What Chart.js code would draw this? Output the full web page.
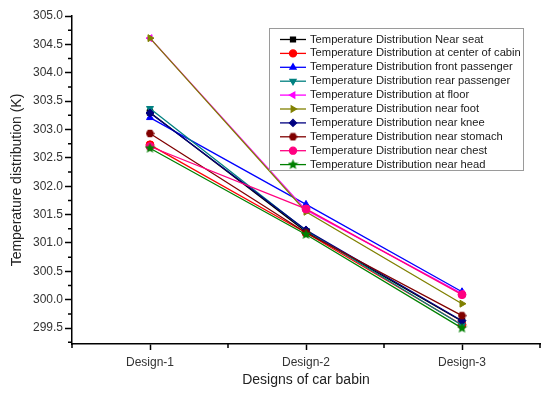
<!DOCTYPE html>
<html lang="en">
<head>
    <meta charset="UTF-8">
    <title>Temperature distribution by design</title>
    <script src="https://cdn.jsdelivr.net/npm/chart.js"></script>
    <style>
        html, body {
            margin: 0;
            padding: 0;
            background: #fff;
        }
        #chart-container {
            width: 546px;
            height: 394px;
        }
    </style>
</head>
<body>
    <div id="chart-container">
        <canvas id="tempChart"></canvas>
    </div>
    <script>
        // categories and y tick labels
        const categories = ['Design-1', 'Design-2', 'Design-3'];
        const yTickValues = [299.5, 300.0, 300.5, 301.0, 301.5, 302.0, 302.5, 303.0, 303.5, 304.0, 304.5, 305.0];

        // series values (K)
        const nearSeat = [303.30, 301.20, 299.62];
        const centerOfCabin = [302.73, 301.18, 299.56];
        const frontPassenger = [303.21, 301.68, 300.14];
        const rearPassenger = [303.37, 301.22, 299.55];
        const atFloor = [304.61, 301.58, 300.11];
        const nearFoot = [304.61, 301.55, 299.93];
        const nearKnee = [303.29, 301.23, 299.63];
        const nearStomach = [302.93, 301.18, 299.72];
        const nearChest = [302.70, 301.60, 300.09];
        const nearHead = [302.67, 301.15, 299.50];

        const seriesNames = [
            'Temperature Distribution Near seat',
            'Temperature Distribution at center of cabin',
            'Temperature Distribution front passenger',
            'Temperature Distribution rear passenger',
            'Temperature Distribution at floor',
            'Temperature Distribution near foot',
            'Temperature Distribution near knee',
            'Temperature Distribution near stomach',
            'Temperature Distribution near chest',
            'Temperature Distribution near head'
        ];
        const seriesValues = [nearSeat, centerOfCabin, frontPassenger, rearPassenger, atFloor,
            nearFoot, nearKnee, nearStomach, nearChest, nearHead];

        // little filled shapes that Chart.js has no built-in style for
        function shapeCanvas(kind, color, size) {
            const c = document.createElement('canvas');
            c.width = size;
            c.height = size;
            const g = c.getContext('2d');
            const r = size / 2;
            g.fillStyle = color;
            g.beginPath();
            if (kind === 'star') {
                for (let i = 0; i < 10; i++) {
                    const rad = i % 2 === 0 ? r : r * 0.45;
                    const a = -Math.PI / 2 + i * Math.PI / 5;
                    const px = r + rad * Math.cos(a);
                    const py = r + rad * Math.sin(a);
                    if (i === 0) g.moveTo(px, py); else g.lineTo(px, py);
                }
            } else {
                for (let i = 0; i < 6; i++) {
                    const a = i * Math.PI / 3;
                    const px = r + r * 0.95 * Math.cos(a);
                    const py = r + r * 0.95 * Math.sin(a);
                    if (i === 0) g.moveTo(px, py); else g.lineTo(px, py);
                }
            }
            g.closePath();
            g.fill();
            return c;
        }

        const styles = [
            { color: '#000000', point: 'rect', rot: 0 },
            { color: '#FF0000', point: 'circle', rot: 0 },
            { color: '#0000FF', point: 'triangle', rot: 0 },
            { color: '#008080', point: 'triangle', rot: 180 },
            { color: '#FF00FF', point: 'triangle', rot: -90 },
            { color: '#808000', point: 'triangle', rot: 90 },
            { color: '#000080', point: 'rectRot', rot: 0 },
            { color: '#800000', point: shapeCanvas('hex', '#800000', 9), rot: 0 },
            { color: '#FF0080', point: 'circle', rot: 0 },
            { color: '#008000', point: shapeCanvas('star', '#008000', 11), rot: 0 }
        ];

        // later series are painted over earlier ones, as in the original plot
        const datasets = seriesNames.map((name, i) => ({
            label: name,
            data: seriesValues[i].map((v, j) => ({ x: j + 1, y: v })),
            order: seriesNames.length - i,
            borderColor: styles[i].color,
            backgroundColor: styles[i].color,
            pointStyle: styles[i].point,
            pointRotation: styles[i].rot,
            pointRadius: 4,
            pointBorderWidth: 1,
            borderWidth: 1.3,
            tension: 0
        }));

        // legend box drawn inside the plot, lines + markers like the original
        const boxLegend = {
            id: 'boxLegend',
            afterDraw(chart) {
                const ctx = chart.ctx;
                const left = 269, top = 28, right = 523, bottom = 170;
                ctx.save();
                ctx.fillStyle = '#fff';
                ctx.fillRect(left, top, right - left, bottom - top);
                ctx.strokeStyle = '#9a9a9a';
                ctx.lineWidth = 1;
                ctx.strokeRect(left + 0.5, top + 0.5, right - left, bottom - top);
                ctx.font = '11.2px "Liberation Sans", Arial, sans-serif';
                ctx.textBaseline = 'middle';
                chart.data.datasets.forEach((ds, i) => {
                    const y = 39.5 + i * 13.9;
                    ctx.strokeStyle = ds.borderColor;
                    ctx.fillStyle = ds.backgroundColor;
                    ctx.lineWidth = 1.3;
                    ctx.beginPath();
                    ctx.moveTo(280, y);
                    ctx.lineTo(306, y);
                    ctx.stroke();
                    Chart.helpers.drawPoint(ctx, {
                        pointStyle: ds.pointStyle,
                        rotation: ds.pointRotation,
                        radius: 3.5,
                        borderWidth: 1
                    }, 293, y);
                    ctx.fillStyle = '#1a1a1a';
                    ctx.fillText(ds.label, 310, y);
                });
                ctx.restore();
            }
        };

        // short minor ticks between the labelled ones
        const minorTicks = {
            id: 'minorTicks',
            afterDraw(chart) {
                const ctx = chart.ctx;
                const xs = chart.scales.x, ys = chart.scales.y;
                ctx.save();
                ctx.strokeStyle = '#000';
                ctx.lineWidth = 1.5;
                ctx.beginPath();
                for (let k = 0; k < yTickValues.length; k++) {
                    const py = ys.getPixelForValue(yTickValues[k] - 0.25);
                    if (py <= ys.bottom) {
                        ctx.moveTo(ys.right - 4, py);
                        ctx.lineTo(ys.right, py);
                    }
                }
                for (let k = 0; k <= categories.length; k++) {
                    const px = xs.getPixelForValue(k + 0.5);
                    ctx.moveTo(px, xs.top);
                    ctx.lineTo(px, xs.top + 4);
                }
                ctx.stroke();
                ctx.restore();
            }
        };

        const ctx = document.getElementById('tempChart').getContext('2d');
        new Chart(ctx, {
            type: 'line',
            data: { datasets: datasets },
            options: {
                responsive: true,
                maintainAspectRatio: false,
                animation: false,
                layout: { padding: { left: 0, top: 16, right: 6, bottom: 0 } },
                plugins: {
                    legend: { display: false },
                    tooltip: { enabled: false }
                },
                scales: {
                    x: {
                        type: 'linear',
                        min: 0.5,
                        max: categories.length + 0.5,
                        afterBuildTicks: (scale) => {
                            scale.ticks = categories.map((c, i) => ({ value: i + 1 }));
                        },
                        afterFit: (scale) => { scale.height = 50; },
                        border: { display: true, color: '#000', width: 1.5 },
                        grid: {
                            display: true,
                            drawOnChartArea: false,
                            drawTicks: true,
                            tickLength: 6,
                            tickWidth: 1.5,
                            tickColor: '#000'
                        },
                        ticks: {
                            padding: 5,
                            color: '#333',
                            font: { family: '"Liberation Sans", Arial, sans-serif', size: 12 },
                            maxRotation: 0,
                            callback: (v) => categories[Math.round(v) - 1]
                        },
                        title: {
                            display: true,
                            text: 'Designs of car babin',
                            color: '#222',
                            font: { family: '"Liberation Sans", Arial, sans-serif', size: 14 },
                            padding: { top: 0, bottom: 5 }
                        }
                    },
                    y: {
                        min: 299.22,
                        max: 305.0,
                        afterBuildTicks: (scale) => {
                            scale.ticks = yTickValues.map(v => ({ value: v }));
                        },
                        afterFit: (scale) => { scale.width = 72; },
                        border: { display: true, color: '#000', width: 1.5 },
                        grid: {
                            display: true,
                            drawOnChartArea: false,
                            drawTicks: true,
                            tickLength: 7,
                            tickWidth: 1.5,
                            tickColor: '#000'
                        },
                        ticks: {
                            padding: 2,
                            color: '#333',
                            font: { family: '"Liberation Sans", Arial, sans-serif', size: 12 },
                            callback: (v) => v.toFixed(1)
                        },
                        title: {
                            display: true,
                            text: 'Temperature distribution (K)',
                            color: '#222',
                            font: { family: '"Liberation Sans", Arial, sans-serif', size: 14 },
                            padding: { top: 9, bottom: 0 }
                        }
                    }
                }
            },
            plugins: [boxLegend, minorTicks]
        });
    </script>
</body>
</html>
